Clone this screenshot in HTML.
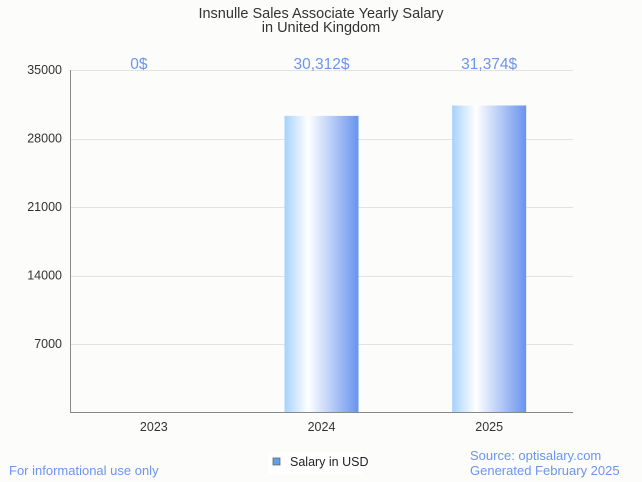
<!DOCTYPE html>
<html><head><meta charset="utf-8"><style>
body{margin:0;background:#fcfcfb;}
svg{display:block;font-family:"Liberation Sans",sans-serif;}
</style></head><body>
<svg id="c" width="642" height="482">
<defs><linearGradient id="g" x1="0" x2="1" y1="0" y2="0">
<stop offset="0" stop-color="#a6d2fb"/><stop offset="0.32" stop-color="#ffffff"/><stop offset="1" stop-color="#6893ee"/>
</linearGradient></defs>
<rect width="642" height="482" fill="#fcfcfb"/>
<text x="321" y="18" text-anchor="middle" font-size="14.5" fill="#333">Insnulle Sales Associate Yearly Salary</text>
<text x="321" y="32" text-anchor="middle" font-size="14.5" fill="#333">in United Kingdom</text>
<g id="grid"></g><g id="bars"></g>
<line x1="70" y1="412.5" x2="573" y2="412.5" stroke="#888"/>
<line x1="70.5" y1="70" x2="70.5" y2="412" stroke="#888"/>
<rect x="268" y="452" width="94" height="22" fill="#fff"/>
<rect x="273" y="458" width="7" height="7" fill="#5fa2ea" stroke="#666" stroke-width="0.8"/>
<text x="290" y="466" font-size="12.5" fill="#222">Salary in USD</text>
<text x="9" y="475" font-size="13" fill="#6b95ee">For informational use only</text>
<text x="470" y="460" font-size="13" fill="#6b95ee">Source: optisalary.com</text>
<text x="470" y="475" font-size="13" fill="#6b95ee">Generated February 2025</text>
</svg>
<script>
const categories=["2023","2024","2025"];
const values=[0,30312,31374];
const valueLabels=["0$","30,312$","31,374$"];
const yTicks=[7000,14000,21000,28000,35000];
const x0=70,x1=573,yTop=70,yBot=412.5,yMax=35000;
const ns="http://www.w3.org/2000/svg";
const y=v=>yBot-(v/yMax)*(yBot-yTop);
const bw=(x1-x0)/categories.length;
const xc=i=>x0+bw*(i+0.5);
const grid=document.getElementById('grid'),bars=document.getElementById('bars');
function mk(tag,a,p){const e=document.createElementNS(ns,tag);for(const k in a)e.setAttribute(k,a[k]);p.appendChild(e);return e;}
yTicks.forEach(t=>{
 const l=mk('line',{x1:x0,x2:x1,y1:Math.round(y(t))+0.5,y2:Math.round(y(t))+0.5,stroke:'#e2e2e2'},grid);
 
 
 const tx=mk('text',{x:x0-8,y:y(t)+4,'text-anchor':'end','font-size':12.5,fill:'#333'},grid);
 tx.textContent=t;
 
 
});
categories.forEach((c,i)=>{
 const r=mk('rect',{x:xc(i)-37,y:y(values[i]),width:74,height:yBot-y(values[i]),fill:'url(#g)'},bars);
 
 
 const lx=values[i]===0?xc(i)-15:xc(i);
 const v=mk('text',{x:lx,y:69,'text-anchor':'middle','font-size':15.5,fill:'#6b95ee'},bars);
 v.textContent=valueLabels[i];
 
 
 const t=mk('text',{x:xc(i),y:431,'text-anchor':'middle','font-size':12.5,fill:'#333'},bars);
 t.textContent=c;
 
 
});
</script>
</body></html>
